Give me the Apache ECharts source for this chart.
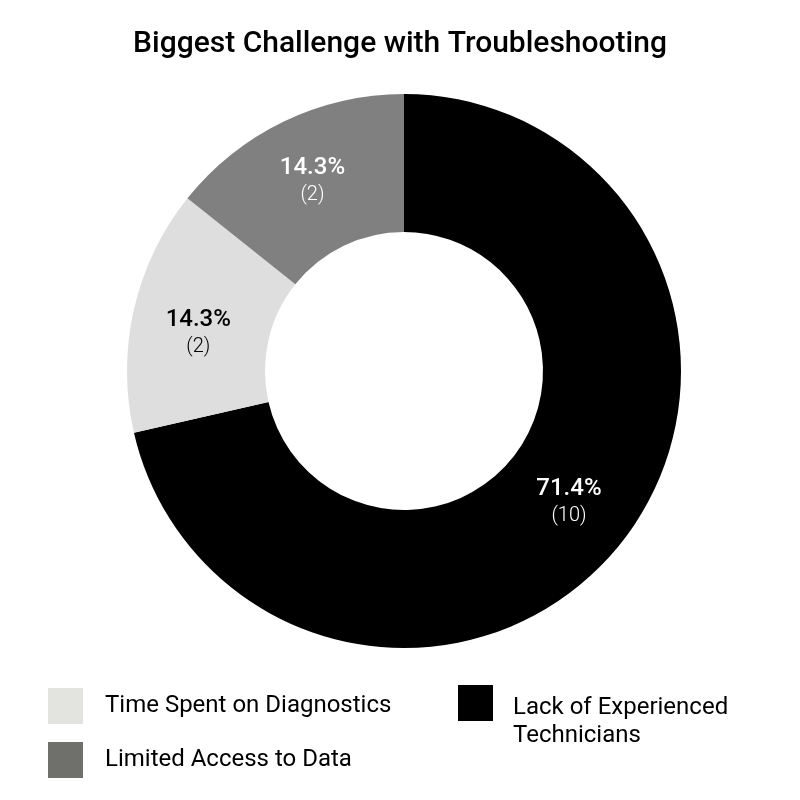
<!DOCTYPE html>
<html>
<head>
<meta charset="utf-8">
<script src="https://cdn.jsdelivr.net/npm/echarts@6/dist/echarts.min.js"></script>
<style>
html,body{margin:0;padding:0;background:#fff;}
#chart{width:800px;height:800px;}
</style>
</head>
<body>
<div id="chart"></div>
<script>
const titleText = 'Biggest Challenge with Troubleshooting';
const categories = ['Lack of Experienced Technicians', 'Time Spent on Diagnostics', 'Limited Access to Data'];
const values = [10, 2, 2];
const sliceColors = ['#000000', '#dedede', '#808080'];
const labelColors = ['#ffffff', '#000000', '#ffffff'];
const labelOffsets = [[0, 0], [0, 9], [0, 1]];
const legendColors = ['#000000', '#e3e3df', '#6f6f6b'];

const chart = echarts.init(document.getElementById('chart'));
const total = values.reduce((a, b) => a + b, 0);
const data = categories.map((name, i) => ({
  name: name,
  value: values[i],
  itemStyle: { color: sliceColors[i] },
  label: { color: labelColors[i], offset: labelOffsets[i], rich: {
    p: { fontFamily: 'Roboto', fontSize: 24, fontWeight: 500, color: labelColors[i], lineHeight: 27 },
    c: { fontFamily: 'Roboto', fontSize: 20, fontWeight: 300, color: labelColors[i], lineHeight: 27 }
  } }
}));

chart.setOption({
  backgroundColor: '#ffffff',
  animation: false,
  title: {
    text: titleText,
    left: 'center',
    top: 24,
    textStyle: { fontFamily: 'Roboto', fontSize: 30, fontWeight: 500, color: '#000' }
  },
  legend: [
    {
      orient: 'vertical',
      left: 43,
      top: 683,
      itemWidth: 35,
      itemHeight: 36,
      itemGap: 18,
      icon: 'rect',
      data: [
        { name: categories[1], itemStyle: { color: legendColors[1] } },
        { name: categories[2], itemStyle: { color: legendColors[2] } }
      ],
      textStyle: { fontFamily: 'Roboto', fontSize: 24, color: '#000', padding: [0, 0, 0, 17] },
      selectedMode: false
    },
    {
      orient: 'vertical',
      left: 453,
      top: 658,
      itemWidth: 35,
      itemHeight: 36,
      icon: 'rect',
      data: [
        { name: categories[0], itemStyle: { color: legendColors[0] } }
      ],
      formatter: function (n) { return '{s| }\n{t|Lack of Experienced}\n{t|Technicians}'; },
      textStyle: {
        fontFamily: 'Roboto', fontSize: 24, color: '#000', padding: [0, 0, 0, 15],
        rich: {
          s: { fontFamily: 'Roboto', fontSize: 24, lineHeight: 38 },
          t: { fontFamily: 'Roboto', fontSize: 24, color: '#000', lineHeight: 28 }
        }
      },
      selectedMode: false
    }
  ],
  series: [{
    type: 'pie',
    center: [404, 371],
    radius: [139, 277],
    startAngle: 90,
    clockwise: true,
    avoidLabelOverlap: false,
    silent: true,
    label: {
      show: true,
      position: 'inside',
      formatter: function (p) {
        return '{p|' + (p.value / total * 100).toFixed(1) + '%}\n{c|(' + p.value + ')}';
      }
    },
    labelLine: { show: false },
    data: data
  }]
});
</script>
</body>
</html>
